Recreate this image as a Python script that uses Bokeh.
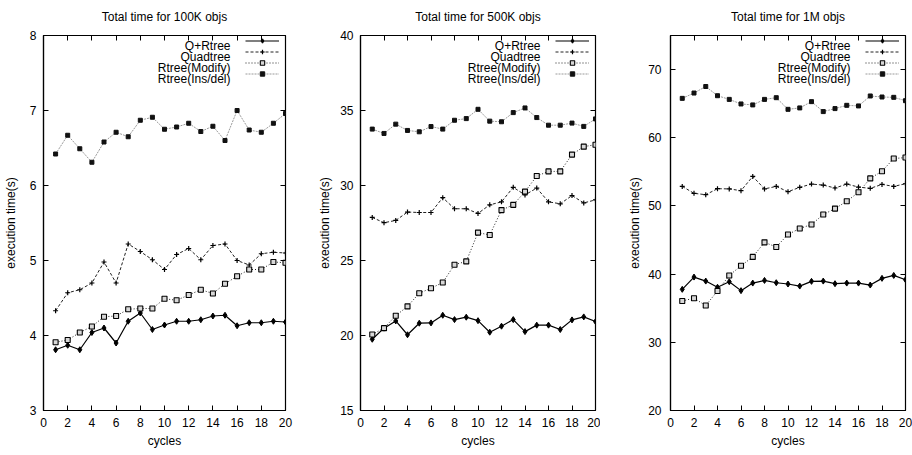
from bokeh.plotting import figure
from bokeh.layouts import row
from bokeh.models import (FixedTicker, LinearAxis, Legend, LegendItem, Label, Range1d,
                          CustomLabelingPolicy)
from bokeh.embed import file_html
from bokeh.resources import INLINE

cycles = list(range(1, 21))
series_names = ["Q+Rtree", "Quadtree", "Rtree(Modify)", "Rtree(Ins/del)"]
x_ticks = [0, 2, 4, 6, 8, 10, 12, 14, 16, 18, 20]

titles = ["Total time for 100K objs", "Total time for 500K objs", "Total time for 1M objs"]

p1_qrtree = [3.81, 3.87, 3.81, 4.04, 4.10, 3.90, 4.19, 4.30, 4.08, 4.14, 4.19, 4.19, 4.21, 4.26, 4.27, 4.13, 4.17, 4.17, 4.19, 4.18]
p1_quadtree = [4.33, 4.57, 4.61, 4.70, 4.98, 4.70, 5.22, 5.12, 5.01, 4.88, 5.08, 5.16, 5.01, 5.20, 5.22, 5.00, 4.94, 5.09, 5.11, 5.10]
p1_modify = [3.91, 3.94, 4.04, 4.12, 4.25, 4.26, 4.35, 4.36, 4.36, 4.49, 4.47, 4.54, 4.61, 4.56, 4.69, 4.79, 4.88, 4.88, 4.98, 4.97]
p1_insdel = [6.42, 6.67, 6.49, 6.31, 6.58, 6.71, 6.65, 6.87, 6.91, 6.75, 6.78, 6.83, 6.72, 6.79, 6.60, 7.00, 6.74, 6.71, 6.83, 6.96]
p1_yticks = [3, 4, 5, 6, 7, 8]

p2_qrtree = [19.75, 20.49, 20.97, 20.05, 20.82, 20.84, 21.35, 21.06, 21.22, 20.99, 20.22, 20.62, 21.06, 20.26, 20.69, 20.69, 20.40, 21.04, 21.24, 20.93]
p2_quadtree = [27.87, 27.52, 27.67, 28.23, 28.20, 28.20, 29.19, 28.45, 28.45, 28.14, 28.71, 28.91, 29.88, 29.37, 29.83, 28.91, 28.78, 29.33, 28.84, 29.04]
p2_modify = [20.07, 20.49, 21.32, 21.94, 22.82, 23.15, 23.53, 24.72, 24.94, 26.86, 26.70, 28.36, 28.71, 29.59, 30.63, 30.94, 30.94, 32.06, 32.59, 32.72]
p2_insdel = [33.76, 33.47, 34.09, 33.67, 33.58, 33.93, 33.76, 34.35, 34.46, 35.08, 34.29, 34.25, 34.86, 35.17, 34.53, 34.02, 34.02, 34.16, 33.94, 34.44]
p2_yticks = [15, 20, 25, 30, 35, 40]

p3_qrtree = [37.77, 39.57, 38.98, 38.07, 38.89, 37.58, 38.69, 39.08, 38.74, 38.55, 38.25, 38.94, 38.98, 38.60, 38.69, 38.69, 38.40, 39.38, 39.81, 39.18]
p3_quadtree = [52.87, 51.85, 51.65, 52.53, 52.50, 52.24, 54.33, 52.50, 52.87, 52.09, 52.73, 53.21, 53.06, 52.63, 53.21, 52.77, 52.58, 53.16, 52.87, 53.26]
p3_modify = [36.07, 36.46, 35.40, 37.53, 39.81, 41.22, 42.53, 44.66, 43.99, 45.82, 46.70, 47.28, 48.74, 49.61, 50.69, 52.00, 54.04, 55.10, 56.95, 57.10]
p3_insdel = [65.78, 66.56, 67.52, 66.17, 65.63, 64.96, 64.82, 65.63, 65.88, 64.17, 64.38, 65.30, 63.84, 64.28, 64.76, 64.67, 66.13, 65.98, 65.93, 65.44]
p3_yticks = [20, 30, 40, 50, 60, 70]
p3_ymax = 75

FONT = "Liberation Sans"

styles = [
    dict(line=dict(line_color="black", line_width=1.2),
         marker=dict(marker="diamond", size=6, fill_color="black", line_color="black")),
    dict(line=dict(line_color="#222222", line_width=1, line_dash="3 2"),
         marker=dict(marker="cross", size=5, line_color="black", line_width=1.2)),
    dict(line=dict(line_color="#222222", line_width=1, line_dash="1 2"),
         marker=dict(marker="square", size=5, fill_color="#d8d8d8", line_color="black", line_width=1.1)),
    dict(line=dict(line_color="#9a9a9a", line_width=1, line_dash="2 1"),
         marker=dict(marker="square", size=4, fill_color="#111111", line_color="#111111")),
]

NO_LABELS = "for (const i of Array.from(indices)) { indices.unset(i) } return indices"


def make_panel(title, ydata, yticks, ymax, width, bl, br, tick_standoff, label_standoff):
    p = figure(width=width, height=455, output_backend="svg", toolbar_location=None,
               x_range=Range1d(0, 20), y_range=Range1d(yticks[0], ymax),
               min_border_left=bl, min_border_right=br, min_border_top=32, min_border_bottom=45,
               title=title)
    p.title.align = "center"
    p.title.text_font = FONT
    p.title.text_font_size = "12px"
    p.title.text_font_style = "normal"
    p.title.text_color = "black"
    p.title.standoff = 15
    p.grid.visible = False
    p.outline_line_color = "black"
    p.outline_line_width = 1.2
    p.background_fill_color = "white"
    p.border_fill_color = "white"

    p.xaxis.ticker = FixedTicker(ticks=x_ticks)
    p.yaxis.ticker = FixedTicker(ticks=yticks)
    p.xaxis.axis_label = "cycles"
    p.yaxis.axis_label = "execution time(s)"
    for ax in (p.xaxis[0], p.yaxis[0]):
        ax.major_tick_in = 5
        ax.major_tick_out = 0
        ax.minor_tick_in = 0
        ax.minor_tick_out = 0
        ax.axis_line_color = "black"
        ax.axis_line_width = 1.2
        ax.major_tick_line_color = "black"
        ax.major_label_text_font = FONT
        ax.major_label_text_font_size = "12px"
        ax.major_label_text_color = "black"
        ax.axis_label_text_font = FONT
        ax.axis_label_text_font_size = "12px"
        ax.axis_label_text_font_style = "normal"
        ax.axis_label_text_color = "black"
    p.xaxis.major_label_standoff = 7
    p.xaxis.axis_label_standoff = 4
    p.yaxis.major_label_standoff = tick_standoff
    p.yaxis.axis_label_standoff = label_standoff

    # mirrored inward ticks on top and right (labels suppressed)
    top = LinearAxis(ticker=FixedTicker(ticks=x_ticks), major_label_text_font_size="1px",
                     major_label_policy=CustomLabelingPolicy(code=NO_LABELS),
                     major_label_standoff=0, major_tick_in=5, major_tick_out=0,
                     minor_tick_in=0, minor_tick_out=0, axis_line_color=None,
                     major_tick_line_color="black")
    right = LinearAxis(ticker=FixedTicker(ticks=yticks), major_label_text_font_size="1px",
                       major_label_policy=CustomLabelingPolicy(code=NO_LABELS),
                       major_label_standoff=0, major_tick_in=5, major_tick_out=0,
                       minor_tick_in=0, minor_tick_out=0, axis_line_color=None,
                       major_tick_line_color="black")
    p.add_layout(top, "above")
    p.add_layout(right, "right")

    items = []
    for ys, st in zip(ydata, styles):
        r1 = p.line(cycles, ys, **st["line"])
        r2 = p.scatter(cycles, ys, **st["marker"])
        items.append(LegendItem(label=" ", renderers=[r1, r2]))

    leg = Legend(items=items, location="top_right", margin=0, padding=5,
                 border_line_color=None, background_fill_alpha=0,
                 glyph_width=34, glyph_height=11, label_height=11, label_width=0,
                 label_standoff=6, spacing=0, label_text_font_size="8px")
    p.add_layout(leg, "center")

    for i, name in enumerate(series_names):
        p.add_layout(Label(x=20, y=ymax, x_offset=-55, y_offset=-(10.5 + 11 * i), text=name,
                           text_align="right", text_baseline="middle", text_font=FONT,
                           text_font_size="12px", text_color="black"))
    return p


f1 = make_panel(titles[0], [p1_qrtree, p1_quadtree, p1_modify, p1_insdel], p1_yticks, p1_yticks[-1],
                300, 43, 15, 7, 9)
f2 = make_panel(titles[1], [p2_qrtree, p2_quadtree, p2_modify, p2_insdel], p2_yticks, p2_yticks[-1],
                300, 60, 5, 7, 5)
f3 = make_panel(titles[2], [p3_qrtree, p3_quadtree, p3_modify, p3_insdel], p3_yticks, p3_ymax,
                312, 70, 7, 9, 3)

layout = row(f1, f2, f3)
open("out.html", "w").write(file_html(layout, INLINE))
